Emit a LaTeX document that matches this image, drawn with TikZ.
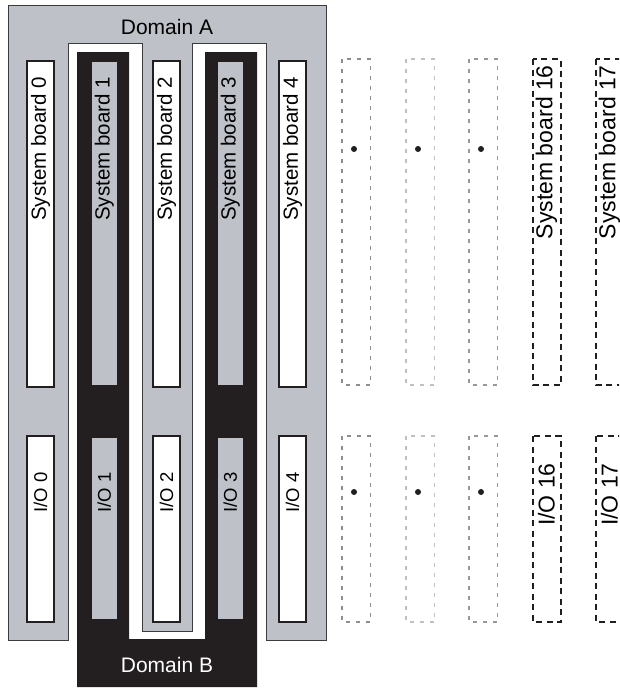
\documentclass[tikz,border=0pt]{standalone}
\usepackage{fontspec}
\setmainfont{Liberation Sans}
\definecolor{domA}{RGB}{190,194,200}
\definecolor{domB}{RGB}{35,31,32}
\definecolor{edgeA}{RGB}{60,60,62}
\definecolor{ghostA}{RGB}{140,142,145}
\definecolor{ghostB}{RGB}{190,192,194}
\definecolor{ghostC}{RGB}{150,152,155}

\begin{document}
\begin{tikzpicture}[x=1pt,y=-1pt,
    board/.style={draw=domB,line width=1.4pt,fill=white},
    ghost/.style={line width=1.4pt,dash pattern=on 4pt off 6pt},
    ghostdark/.style={draw=domB,line width=2pt,dash pattern=on 6pt off 4.5pt},
    sblabel/.style={rotate=90,anchor=east,inner sep=0pt,font=\fontsize{20.5}{24}\selectfont},
    iolabel/.style={rotate=90,anchor=east,inner sep=0pt,font=\fontsize{18.5}{22}\selectfont},
    biglabel/.style={rotate=90,anchor=east,inner sep=0pt,font=\fontsize{23}{27}\selectfont},
    ]
    \useasboundingbox (0,0) rectangle (619,688);
    \clip (0,0) rectangle (619,688);

    % domain A
    \draw[fill=domA,draw=edgeA,line width=1pt]
        (8,5) -- (326,5) -- (326,640) -- (266,640) -- (266,43) -- (192,43)
        -- (192,631) -- (142,631) -- (142,43) -- (68,43) -- (68,640)
        -- (8,640) -- cycle;
    \node[font=\fontsize{21}{25}\selectfont] (domainA) at (167,27) {Domain A};

    % domain B
    \fill[domB] (77,52) -- (129,52) -- (129,639) -- (205,639) -- (205,52)
        -- (257,52) -- (257,687) -- (77,687) -- cycle;
    \node[font=\fontsize{21}{25}\selectfont,text=white] (domainB) at (167,665) {Domain B};

    \foreach \n/\x in {0/27,2/153,4/279} {
        \draw[board] (\x,61) rectangle ++(27,326);
        \draw[board] (\x,436) rectangle ++(27,186);
        \node[sblabel] (sb\n) at (\x+13.5,77) {System board \n};
        \node[iolabel] (io\n) at (\x+13.5,472) {I/O \n};
    }

    \foreach \n/\x in {1/92,3/218} {
        \fill[domA] (\x,62) rectangle ++(24.5,323);
        \fill[domA] (\x,438) rectangle ++(24.5,181);
        \node[sblabel] (sb\n) at (\x+12.25,77) {System board \n};
        \node[iolabel] (io\n) at (\x+12.25,472) {I/O \n};
    }

    % boards 5 to 15, not shown
    \foreach \x/\c in {342/ghostA,406/ghostB,469/ghostC} {
        \draw[ghost,draw=\c] (\x,59) rectangle ++(28.5,326);
        \draw[ghost,draw=\c] (\x,436) rectangle ++(28.5,186);
        \fill[domB] (\x+12,149) circle (3pt);
        \fill[domB] (\x+12,492) circle (3pt);
    }

    \foreach \n/\x in {16/533,17/596} {
        \draw[ghostdark] (\x,59) rectangle ++(27.5,326);
        \draw[ghostdark] (\x,436) rectangle ++(27.5,186);
        \node[biglabel] (sb\n) at (\x+13.5,65) {System board \n};
        \node[biglabel] (io\n) at (\x+13.5,463) {I/O \n};
    }
\end{tikzpicture}
\end{document}
